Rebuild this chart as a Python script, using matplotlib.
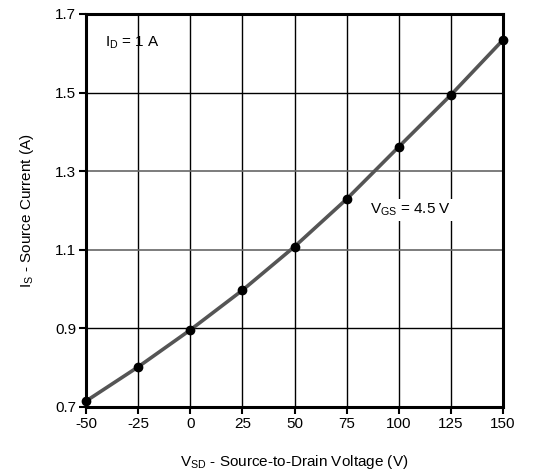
import matplotlib
matplotlib.use("Agg")
import matplotlib.pyplot as plt

plt.rcParams['font.family'] = ['Liberation Sans', 'DejaVu Sans']
plt.rcParams['mathtext.fontset'] = 'custom'
plt.rcParams['mathtext.rm'] = 'Liberation Sans'
plt.rcParams['mathtext.it'] = 'Liberation Sans'

# Source current vs. source-to-drain voltage
vsd = [-50, -25, 0, 25, 50, 75, 100, 125, 150]
i_s = [0.715, 0.802, 0.896, 0.997, 1.108, 1.229, 1.362, 1.494, 1.634]

x_ticks = [-50, -25, 0, 25, 50, 75, 100, 125, 150]
y_ticks = [0.7, 0.9, 1.1, 1.3, 1.5, 1.7]

fig = plt.figure(figsize=(5.43, 4.72), dpi=100)
ax = fig.add_axes([86 / 543, 1 - 407 / 472, 417 / 543, 393 / 472])

ax.plot(vsd, i_s, color='#555555', lw=2.6, zorder=3, solid_capstyle='round')
ax.plot(vsd, i_s, 'o', color='black', ms=6, zorder=4, clip_on=False)

ax.set_xlim(-50, 150)
ax.set_ylim(0.7, 1.7)
ax.set_xticks(x_ticks)
ax.set_xticklabels([str(v) for v in x_ticks])
ax.set_yticks(y_ticks)
ax.set_yticklabels([f"{v:.1f}" for v in y_ticks])

# grid: vertical lines black, two mid horizontal lines a softer gray
ax.xaxis.grid(True, color='black', lw=1.0)
for y in y_ticks[1:-1]:
    c = '#666666' if y in (1.1, 1.3) else 'black'
    ax.axhline(y, color=c, lw=1.2 if c != 'black' else 1.0, zorder=1)
ax.set_axisbelow(True)

for s in ax.spines.values():
    s.set_linewidth(2.2)
    s.set_color('black')

ax.tick_params(axis='both', direction='out', length=5, width=1.5,
               labelsize=11, colors='black', pad=2)

ax.set_xlabel(r'V$_{\mathregular{SD}}$ - Source-to-Drain Voltage (V)', fontsize=11, labelpad=16)
ax.set_ylabel(r'I$_{\mathregular{S}}$ - Source Current (A)', fontsize=11, labelpad=14)

ax.text(-41, 1.626, r'I$_{\mathregular{D}}$ = 1 A', fontsize=11, va='center', ha='left')
ax.text(86, 1.201, r'V$_{\mathregular{GS}}$ = 4.5 V', fontsize=11, va='center', ha='left',
        bbox=dict(facecolor='white', edgecolor='none', pad=2), zorder=5)

fig.savefig('out.png', dpi=100)
